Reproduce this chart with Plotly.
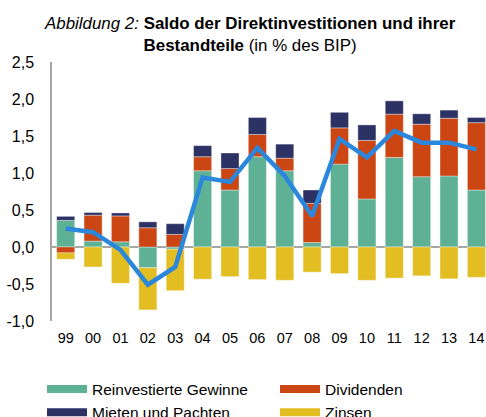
import plotly.graph_objects as go

years = ["99", "00", "01", "02", "03", "04", "05", "06", "07", "08", "09", "10", "11", "12", "13", "14"]
reinvestierte = [0.36, 0.08, 0.07, -0.28, -0.03, 1.03, 0.77, 1.22, 1.03, 0.06, 1.12, 0.65, 1.21, 0.95, 0.96, 0.77]
dividenden = [-0.08, 0.35, 0.35, 0.26, 0.17, 0.19, 0.29, 0.30, 0.17, 0.53, 0.49, 0.79, 0.585, 0.71, 0.78, 0.91]
mieten = [0.054, 0.036, 0.04, 0.08, 0.145, 0.15, 0.21, 0.23, 0.19, 0.18, 0.21, 0.21, 0.18, 0.14, 0.11, 0.07]
zinsen = [-0.086, -0.27, -0.49, -0.57, -0.56, -0.435, -0.40, -0.44, -0.45, -0.34, -0.36, -0.45, -0.42, -0.39, -0.43, -0.41]
saldo = [0.25, 0.20, -0.04, -0.51, -0.27, 0.94, 0.88, 1.34, 0.96, 0.42, 1.46, 1.21, 1.57, 1.41, 1.41, 1.32]
y_ticks = [-1.0, -0.5, 0.0, 0.5, 1.0, 1.5, 2.0, 2.5]
y_tick_labels = ["-1,0", "-0,5", "0,0", "0,5", "1,0", "1,5", "2,0", "2,5"]

C_GREEN = "#5FB196"
C_RED = "#CC4613"
C_NAVY = "#2D3264"
C_YELLOW = "#E3BE22"
C_LINE = "#2A87DC"

FONT = "Liberation Sans, Arial, sans-serif"

W, H = 486, 417
ML, MT, MB = 52, 62, 96
PH = H - MT - MB  # plot height in px
PW = W - ML

fig = go.Figure()
for name, vals, col in [("Reinvestierte Gewinne", reinvestierte, C_GREEN),
                        ("Dividenden", dividenden, C_RED),
                        ("Mieten und Pachten", mieten, C_NAVY),
                        ("Zinsen", zinsen, C_YELLOW)]:
    fig.add_trace(go.Bar(x=years, y=vals, name=name,
                         marker=dict(color=col, line=dict(width=0.6, color="rgba(255,255,255,0.6)")),
                         showlegend=False))

fig.add_trace(go.Scatter(x=years, y=saldo, mode="lines", line=dict(color=C_LINE, width=4.5),
                         showlegend=False, name="Saldo"))

# legend entries
for name, col in [("Reinvestierte Gewinne", C_GREEN), ("Dividenden", C_RED),
                  ("Mieten und Pachten", C_NAVY), ("Zinsen", C_YELLOW)]:
    fig.add_trace(go.Scatter(x=[None], y=[None], mode="lines", name=name,
                             line=dict(color=col, width=8), showlegend=True))

fig.add_annotation(
    xref="paper", yref="paper", x=(250 - ML) / PW, y=1 + (MT - 12) / PH, yanchor="top", xanchor="center",
    text="<i>Abbildung 2:</i> <b>Saldo der Direktinvestitionen und ihrer</b><br><b>Bestandteile</b> (in % des BIP)",
    showarrow=False, font=dict(family=FONT, size=16.9, color="#000"), align="center",
)

fig.update_layout(
    width=W, height=H,
    margin=dict(l=ML, r=0, t=MT, b=MB, autoexpand=False),
    paper_bgcolor="white", plot_bgcolor="white",
    barmode="relative", bargap=0.34,
    font=dict(family=FONT, size=14, color="#000"),
    xaxis=dict(range=[-0.5, 15.35], showgrid=False, zeroline=False, showline=False,
               ticks="outside", ticklen=4, tickcolor="rgba(0,0,0,0)", tickfont=dict(size=14.5)),
    yaxis=dict(range=[-1.0, 2.5], tickvals=y_ticks, ticktext=y_tick_labels, showgrid=False,
               zeroline=True, zerolinecolor="#A6A6A6", zerolinewidth=1.5,
               showline=True, linecolor="#A6A6A6", linewidth=1.5,
               ticks="outside", ticklen=13, tickcolor="rgba(0,0,0,0)", tickfont=dict(size=16)),
    legend=dict(orientation="h", x=(42 - ML) / PW, y=(H - MB - 372.5) / PH,
                xanchor="left", yanchor="top", entrywidth=178, entrywidthmode="pixels",
                itemwidth=40, font=dict(size=15.5), tracegroupgap=0, traceorder="normal"),
)

fig.write_html("out.html", config={"displayModeBar": False},
               post_script="document.body.style.margin='0';document.body.style.overflow='hidden';")
